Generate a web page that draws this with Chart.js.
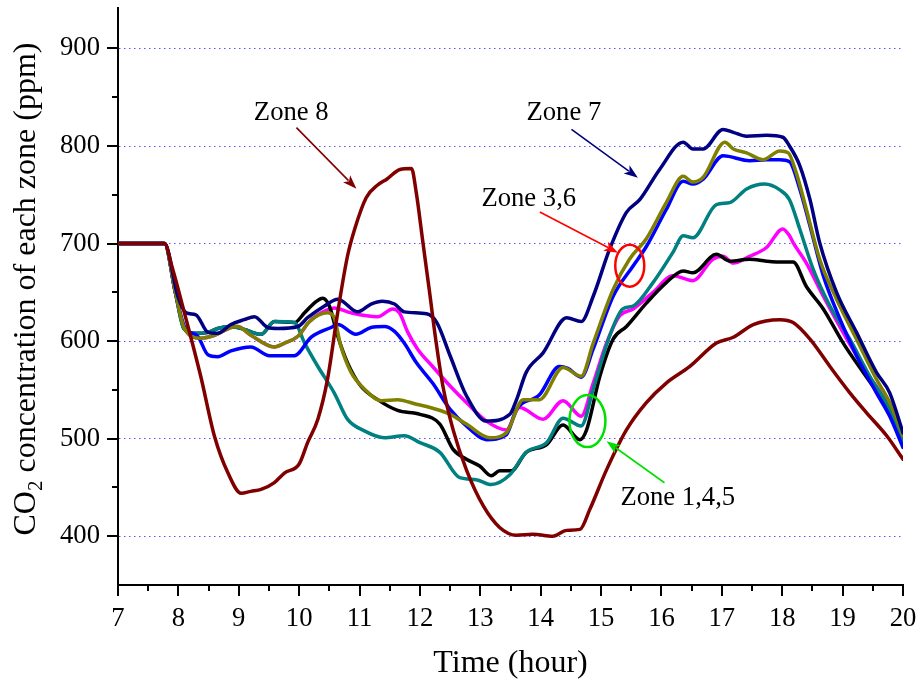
<!DOCTYPE html>
<html>
<head>
<meta charset="utf-8">
<script src="https://cdn.jsdelivr.net/npm/chart.js@4.4.0/dist/chart.umd.min.js"></script>
<style>
  html, body { margin: 0; padding: 0; background: #ffffff; }
  #wrap { width: 922px; height: 685px; position: relative; }
</style>
</head>
<body>
<div id="wrap"><canvas id="co2"></canvas></div>
<script>
// Axis ticks
const hourTicks = [7, 8, 9, 10, 11, 12, 13, 14, 15, 16, 17, 18, 19, 20];
const hourMinorTicks = [7.5, 8.5, 9.5, 10.5, 11.5, 12.5, 13.5, 14.5, 15.5, 16.5, 17.5, 18.5, 19.5];
const ppmTicks = [400, 500, 600, 700, 800, 900];
const ppmMinorTicks = [450, 550, 650, 750, 850];

// CO2 concentration per zone: [hour, ppm]
const zone8 = [[7,700],[7.77,700],[7.9,675],[8.1,629],[8.37,564],[8.6,502],[8.82,465],[9.04,444],[9.2,446],[9.37,448],[9.59,455],[9.76,465],[10.0,474],[10.14,496],[10.31,520],[10.47,561],[10.64,630],[10.8,687],[10.92,715],[11.11,747],[11.3,760],[11.45,766],[11.67,776],[11.86,777],[11.94,752],[12.05,701],[12.16,650],[12.27,598],[12.38,554],[12.55,509],[12.77,468],[13.05,431],[13.32,409],[13.6,401],[13.87,402],[14.2,400],[14.43,406],[14.65,407],[14.81,427],[15.09,468],[15.42,509],[15.75,537],[16.08,557],[16.47,574],[16.91,598],[17.19,604],[17.52,617],[17.96,622],[18.18,619],[18.46,602],[18.79,574],[19.12,547],[19.39,527],[19.73,503],[20,479]];

const zone7 = [[7,700],[7.77,700],[7.99,646],[8.13,629],[8.29,627],[8.49,609],[8.65,608],[8.87,617],[9.09,622],[9.26,625],[9.48,614],[9.65,613],[9.98,615],[10.14,624],[10.42,636],[10.64,643],[10.97,630],[11.19,638],[11.38,641],[11.58,638],[11.74,630],[12.11,628],[12.28,619],[12.5,585],[12.77,544],[13.1,518],[13.49,525],[13.6,540],[13.76,568],[14.04,588],[14.43,624],[14.67,620],[14.87,646],[15.14,694],[15.42,732],[15.64,745],[15.97,776],[16.36,804],[16.52,797],[16.69,797],[17.02,817],[17.19,814],[17.41,810],[17.74,811],[18.01,809],[18.12,800],[18.29,780],[18.46,745],[18.62,701],[18.9,650],[19.23,609],[19.56,568],[19.78,547],[20,506]];

const zoneOlive = [[7,700],[7.77,700],[7.95,650],[8.1,613],[8.37,603],[8.6,606],[8.87,614],[8.98,615],[9.2,606],[9.59,594],[9.76,598],[9.98,605],[10.17,620],[10.47,629],[10.58,624],[10.69,595],[10.86,568],[11.08,551],[11.36,539],[11.63,540],[11.96,535],[12.11,533],[12.5,525],[12.77,515],[13.16,501],[13.43,506],[13.71,540],[13.98,540],[14.37,573],[14.67,564],[14.87,598],[15.2,653],[15.47,684],[15.75,705],[16.08,742],[16.36,769],[16.52,763],[16.69,768],[17.05,804],[17.19,797],[17.41,793],[17.68,786],[17.96,795],[18.1,793],[18.23,773],[18.4,735],[18.62,684],[18.9,643],[19.23,602],[19.56,561],[19.78,537],[20,503]];

const zoneBlue = [[7,700],[7.77,700],[7.95,650],[8.1,615],[8.32,605],[8.49,586],[8.65,584],[8.87,590],[9.2,594],[9.51,585],[9.92,585],[10.2,604],[10.53,614],[10.64,617],[10.94,607],[11.19,614],[11.41,615],[11.58,610],[11.74,598],[11.94,578],[12.21,557],[12.5,530],[12.77,513],[13.1,499],[13.43,504],[13.6,530],[13.98,545],[14.31,574],[14.45,572],[14.67,563],[14.87,592],[15.2,646],[15.53,677],[15.75,697],[16.08,735],[16.36,764],[16.52,761],[16.69,766],[17.02,790],[17.46,785],[17.74,786],[17.96,786],[18.12,784],[18.29,756],[18.46,718],[18.68,667],[18.96,622],[19.23,585],[19.56,547],[19.78,523],[20,491]];

const zoneTeal = [[7,700],[7.77,700],[7.95,650],[8.09,613],[8.27,608],[8.49,609],[8.65,613],[8.87,615],[9.09,612],[9.37,607],[9.59,620],[9.92,619],[10.09,598],[10.31,574],[10.58,547],[10.8,520],[11.08,508],[11.41,501],[11.74,503],[12.0,496],[12.33,486],[12.66,460],[12.93,458],[13.18,453],[13.49,463],[13.76,486],[14.1,496],[14.37,521],[14.67,513],[14.87,551],[15.14,605],[15.36,633],[15.53,636],[15.86,660],[16.19,691],[16.36,708],[16.52,706],[16.91,740],[17.13,742],[17.41,756],[17.71,761],[17.96,755],[18.12,745],[18.29,715],[18.51,674],[18.79,636],[19.12,602],[19.45,564],[19.78,530],[20,496]];

const zoneBlack = [[7,700],[7.77,700],[7.95,650],[8.09,613],[8.27,608],[8.49,609],[8.65,613],[8.87,615],[9.09,612],[9.37,607],[9.59,620],[9.92,619],[10.09,629],[10.25,639],[10.39,644],[10.5,636],[10.64,605],[10.8,578],[11.02,554],[11.3,540],[11.63,529],[12.0,525],[12.33,515],[12.55,489],[12.77,479],[12.99,472],[13.18,462],[13.32,467],[13.51,467],[13.76,486],[14.1,494],[14.37,514],[14.65,499],[14.76,509],[14.98,564],[15.2,602],[15.42,615],[15.75,639],[16.08,660],[16.36,672],[16.52,670],[16.91,689],[17.13,682],[17.46,684],[17.74,682],[18.01,681],[18.18,681],[18.4,656],[18.68,633],[19.01,598],[19.34,568],[19.61,544],[19.83,520],[20,499]];

const zoneMagenta = [[7,700],[7.77,700],[7.95,650],[8.1,613],[8.37,603],[8.6,606],[8.87,614],[8.98,615],[9.2,606],[9.59,594],[9.76,598],[9.98,605],[10.17,620],[10.31,627],[10.58,634],[10.86,629],[11.3,625],[11.55,633],[11.66,629],[11.8,609],[11.96,592],[12.21,574],[12.5,554],[12.77,537],[13.1,518],[13.43,509],[13.65,532],[14.04,520],[14.37,539],[14.67,523],[14.87,557],[15.09,598],[15.31,626],[15.53,633],[15.86,650],[16.19,667],[16.52,662],[16.85,684],[17.02,687],[17.19,680],[17.46,687],[17.74,696],[18.01,715],[18.12,708],[18.18,701],[18.4,680],[18.68,646],[19.07,602],[19.4,568],[19.73,537],[20,503]];

// Callout labels: text baseline-left anchor in data units, arrow from/to in data units
const callouts = [
  { text: 'Zone 8',     at: [9.25, 826.7],   from: [9.955, 818.9],  to: [10.948, 756.3], color: '#800000' },
  { text: 'Zone 7',     at: [13.764, 826.5], from: [14.51, 817],    to: [15.61, 767.6],  color: '#000080' },
  { text: 'Zone 3,6',   at: [13.018, 738.5], from: [13.985, 732.3], to: [15.28, 690.7],  color: '#ff0000' },
  { text: 'Zone 1,4,5', at: [15.32, 432.5],  from: [16.05, 454.8],  to: [15.09, 497.4],  color: '#00e000' }
];
// Highlight rings: centre in data units, radii in pixels
const rings = [
  { centre: [15.475, 677.4], rx: 14.5, ry: 21, color: '#ff0000' },
  { centre: [14.774, 518],   rx: 18,   ry: 26, color: '#00e000' }
];

const SERIF = '"Liberation Serif", "Times New Roman", serif';

function arrow(ctx, x1, y1, x2, y2, color) {
  const ang = Math.atan2(y2 - y1, x2 - x1);
  const head = 14, half = 5;
  ctx.strokeStyle = color;
  ctx.fillStyle = color;
  ctx.lineWidth = 1.6;
  ctx.beginPath();
  ctx.moveTo(x1, y1);
  ctx.lineTo(x2 - Math.cos(ang) * head * 0.8, y2 - Math.sin(ang) * head * 0.8);
  ctx.stroke();
  ctx.beginPath();
  ctx.moveTo(x2, y2);
  ctx.lineTo(x2 - Math.cos(ang) * head - Math.sin(ang) * half, y2 - Math.sin(ang) * head + Math.cos(ang) * half);
  ctx.lineTo(x2 - Math.cos(ang) * head * 0.75, y2 - Math.sin(ang) * head * 0.75);
  ctx.lineTo(x2 - Math.cos(ang) * head + Math.sin(ang) * half, y2 - Math.sin(ang) * head - Math.cos(ang) * half);
  ctx.closePath();
  ctx.fill();
}

const decor = {
  id: 'decor',
  afterDraw(chart) {
    const { ctx } = chart;
    const x = chart.scales.x, y = chart.scales.y;
    const left = chart.chartArea.left, bottom = chart.chartArea.bottom;
    ctx.save();

    // tick marks
    ctx.strokeStyle = '#000';
    ctx.lineWidth = 2;
    ctx.beginPath();
    ppmTicks.forEach(v => { const p = Math.round(y.getPixelForValue(v)); ctx.moveTo(left - 11, p); ctx.lineTo(left, p); });
    ppmMinorTicks.forEach(v => { const p = Math.round(y.getPixelForValue(v)); ctx.moveTo(left - 6, p); ctx.lineTo(left, p); });
    hourTicks.forEach(h => { const p = Math.round(x.getPixelForValue(h)); ctx.moveTo(p, bottom); ctx.lineTo(p, bottom + 11); });
    hourMinorTicks.forEach(h => { const p = Math.round(x.getPixelForValue(h)); ctx.moveTo(p, bottom); ctx.lineTo(p, bottom + 6); });
    ctx.stroke();

    // axis titles
    ctx.fillStyle = '#000';
    ctx.font = '32px ' + SERIF;
    ctx.textAlign = 'center';
    ctx.textBaseline = 'alphabetic';
    ctx.fillText('Time (hour)', (chart.chartArea.left + chart.chartArea.right) / 2, 672);

    const partA = 'CO', sub = '2', partB = ' concentration of each zone (ppm)';
    ctx.font = '32px ' + SERIF;
    const wA = ctx.measureText(partA).width, wB = ctx.measureText(partB).width;
    ctx.font = '21px ' + SERIF;
    const wS = ctx.measureText(sub).width;
    const total = wA + wS + wB;
    ctx.translate(35, 289);
    ctx.rotate(-Math.PI / 2);
    ctx.textAlign = 'left';
    let cx = -total / 2;
    ctx.font = '32px ' + SERIF;
    ctx.fillText(partA, cx, 0); cx += wA;
    ctx.font = '21px ' + SERIF;
    ctx.fillText(sub, cx, 7); cx += wS;
    ctx.font = '32px ' + SERIF;
    ctx.fillText(partB, cx, 0);
    ctx.setTransform(1, 0, 0, 1, 0, 0);

    // callouts
    ctx.font = '26.67px ' + SERIF;
    ctx.textAlign = 'left';
    callouts.forEach(c => {
      ctx.fillStyle = '#000';
      ctx.fillText(c.text, x.getPixelForValue(c.at[0]), y.getPixelForValue(c.at[1]));
      arrow(ctx, x.getPixelForValue(c.from[0]), y.getPixelForValue(c.from[1]),
                 x.getPixelForValue(c.to[0]), y.getPixelForValue(c.to[1]), c.color);
    });
    rings.forEach(r => {
      ctx.strokeStyle = r.color;
      ctx.lineWidth = 2.5;
      ctx.beginPath();
      ctx.ellipse(x.getPixelForValue(r.centre[0]), y.getPixelForValue(r.centre[1]), r.rx, r.ry, 0, 0, Math.PI * 2);
      ctx.stroke();
    });
    ctx.restore();
  }
};

function series(data, color) {
  return {
    data, borderColor: color, backgroundColor: color, borderWidth: 3.5,
    pointRadius: 0, cubicInterpolationMode: 'monotone', fill: false,
    borderJoinStyle: 'round', borderCapStyle: 'round'
  };
}

function noEdgePadding(s) {
  s.paddingLeft = 0; s.paddingRight = 0; s.paddingTop = 0; s.paddingBottom = 0;
}

new Chart(document.getElementById('co2'), {
  type: 'line',
  data: {
    datasets: [
      series(zone8, '#800000'),
      series(zone7, '#000080'),
      series(zoneOlive, '#808000'),
      series(zoneBlue, '#0000ff'),
      series(zoneTeal, '#008080'),
      series(zoneBlack, '#000000'),
      series(zoneMagenta, '#ff00ff')
    ]
  },
  options: {
    responsive: true,
    maintainAspectRatio: false,
    devicePixelRatio: 1,
    animation: false,
    layout: { padding: { top: 8, right: 19, bottom: 0, left: 0 } },
    plugins: { legend: { display: false }, tooltip: { enabled: false } },
    scales: {
      x: {
        type: 'linear', min: 7, max: 20,
        grid: { display: false },
        border: { display: true, color: '#000', width: 2 },
        ticks: { font: { family: SERIF, size: 26.67 }, color: '#000', padding: 10, maxRotation: 0 },
        afterBuildTicks: s => { s.ticks = hourTicks.map(v => ({ value: v })); },
        afterFit: s => { s.height = 100; noEdgePadding(s); }
      },
      y: {
        type: 'linear', min: 350, max: 941.5,
        grid: { color: 'rgba(70,70,255,0.9)', lineWidth: 1, drawTicks: false },
        border: { display: true, color: '#000', width: 2, dash: [1.5, 3.5] },
        ticks: { font: { family: SERIF, size: 26.67 }, color: '#000', padding: 18 },
        afterBuildTicks: s => { s.ticks = ppmTicks.map(v => ({ value: v })); },
        afterFit: s => { s.width = 118; noEdgePadding(s); }
      }
    }
  },
  plugins: [decor]
});
</script>
</body>
</html>
